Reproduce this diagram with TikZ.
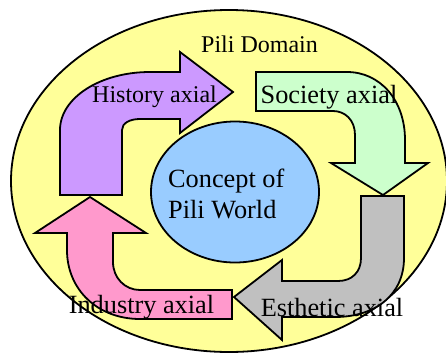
\documentclass[tikz,border=0pt]{standalone}
\usepackage{fontspec}
\setmainfont{Liberation Serif}
\usetikzlibrary{shapes.geometric}
\definecolor{domainyellow}{RGB}{255,255,153}
\definecolor{histpurple}{RGB}{204,153,255}
\definecolor{socgreen}{RGB}{204,255,204}
\definecolor{estgray}{RGB}{192,192,192}
\definecolor{indpink}{RGB}{255,153,204}
\definecolor{conblue}{RGB}{153,204,255}
\tikzset{
  outline/.style={draw=black, line width=1.8pt, line join=miter},
  bigtxt/.style={font=\fontsize{26.3}{31}\selectfont, inner sep=0pt, anchor=base},
  smalltxt/.style={font=\fontsize{24}{29}\selectfont, inner sep=0pt, anchor=base},
}
\begin{document}
\begin{tikzpicture}[x=1pt,y=-1pt]
\useasboundingbox (0,0) rectangle (446,359);
% domain ellipse
\node[ellipse, outline, fill=domainyellow, minimum width=436pt, minimum height=342pt, inner sep=0pt] (domain) at (229,181) {};
% history arrow (purple)
\path[outline, fill=histpurple] (60,195) -- (60,130) .. controls (60,98) and (100,72) .. (150,72) -- (180,72) -- (180,52) -- (233,92) -- (180,133) -- (180,119) -- (140,119) .. controls (130,119) and (122,123) .. (122,130) -- (122,195) -- cycle;
% society arrow (green)
\path[outline, fill=socgreen] (256,72) -- (347,72) .. controls (380,72) and (405,100) .. (405,140) -- (405,163) -- (428,163) -- (383,195) -- (331,163) -- (355,163) -- (355,135) .. controls (355,120) and (345,111) .. (333,111) -- (256,111) -- cycle;
% esthetic arrow (gray)
\path[outline, fill=estgray] (361,196) -- (404,196) -- (404,258) .. controls (404,295) and (375,317) .. (335,317) -- (282,317) -- (282,340) -- (234,297) -- (282,260) -- (282,281) -- (338,281) .. controls (352,281) and (361,272) .. (361,258) -- cycle;
% industry arrow (pink)
\path[outline, fill=indpink] (232,290) -- (232,319) -- (140,319) .. controls (98,319) and (67,290) .. (67,250) -- (67,233) -- (35,233) -- (90,197) -- (146,233) -- (113,233) -- (113,262) .. controls (113,278) and (125,290) .. (140,290) -- cycle;
% concept ellipse
\node[ellipse, outline, fill=conblue, minimum width=168pt, minimum height=141pt, inner sep=0pt] (concept) at (235,192) {};
% texts
\node[smalltxt] (domainlabel) at (259.5,52) {Pili Domain};
\node[smalltxt] (historylabel) at (154.5,102) {History axial};
\node[bigtxt] (societylabel) at (329,103) {Society axial};
\node[font=\fontsize{26.3}{31}\selectfont, inner sep=0pt, anchor=north west, align=left] (conceptlabel) at (168,169) {Concept of\\Pili World};
\node[bigtxt] (industrylabel) at (141.5,313) {Industry axial};
\node[bigtxt] (estheticlabel) at (332,316) {Esthetic axial};
\end{tikzpicture}
\end{document}
